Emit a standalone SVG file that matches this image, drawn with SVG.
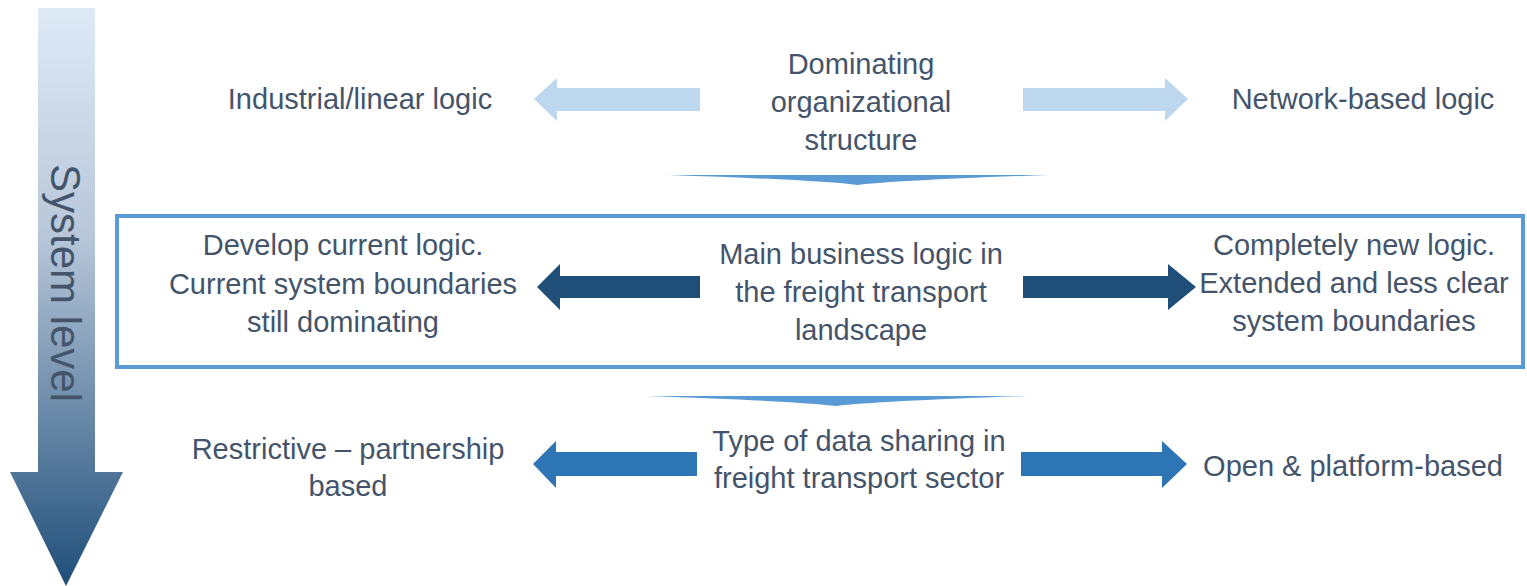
<svg xmlns="http://www.w3.org/2000/svg" width="1527" height="586" viewBox="0 0 1527 586">
<style>
text{font-family:"Liberation Sans",Arial,sans-serif;font-size:29px;fill:#44546a;text-anchor:middle}
.light{fill:#bdd7ee}
.dark{fill:#1f4e79}
.mid{fill:#2e75b6}
.chev{fill:#5b9bd5}
</style>
<defs>
<linearGradient id="g" x1="0" y1="0" x2="0" y2="1">
<stop offset="0" stop-color="#deeaf6"/>
<stop offset="0.4" stop-color="#b7c6d9"/>
<stop offset="1" stop-color="#1f4e79"/>
</linearGradient>
</defs>
<g id="system-level">
<polygon points="38,8 95,8 95,472 123,472 66,586 10,472 38,472" fill="url(#g)"/>
<text transform="translate(66,283) rotate(90)" y="15" style="font-size:42px">System level</text>
</g>
<g id="frame">
<rect x="117" y="216" width="1406" height="151" fill="none" stroke="#5b9bd5" stroke-width="4"/>
</g>
<g id="connectors">
<polygon class="light" points="534,99 557,78 557,88 700,88 700,111 557,111 557,121"/>
<polygon class="light" points="1188,99 1165,78 1165,88 1023,88 1023,111 1165,111 1165,121"/>
<path class="chev" d="M668,175 L1050,175 Q900,180 858,185 Q820,180 668,175 Z"/>
<polygon class="dark" points="537,287 560,264 560,276 700,276 700,298 560,298 560,310"/>
<polygon class="dark" points="1196,287 1168,264 1168,276 1023,276 1023,298 1168,298 1168,310"/>
<path class="chev" d="M645,396 L1027,396 Q880,401 836,406 Q795,401 645,396 Z"/>
<polygon class="mid" points="533,464 556,441 556,452 697,452 697,476 556,476 556,488"/>
<polygon class="mid" points="1187,464 1162,441 1162,452 1021,452 1021,476 1162,476 1162,488"/>
</g>
<g id="industrial"><text x="360" y="109">Industrial/linear logic</text></g>
<g id="dominating"><text x="861" y="74">Dominating</text><text x="861" y="112">organizational</text><text x="861" y="150">structure</text></g>
<g id="network"><text x="1363" y="109">Network-based logic</text></g>
<g id="develop"><text x="343" y="255">Develop current logic.</text><text x="343" y="294">Current system boundaries</text><text x="343" y="332">still dominating</text></g>
<g id="main-logic"><text x="861" y="264">Main business logic in</text><text x="861" y="302">the freight transport</text><text x="861" y="340">landscape</text></g>
<g id="new-logic"><text x="1354" y="255">Completely new logic.</text><text x="1354" y="293">Extended and less clear</text><text x="1354" y="331">system boundaries</text></g>
<g id="restrictive"><text x="348" y="459">Restrictive – partnership</text><text x="348" y="496">based</text></g>
<g id="data-sharing"><text x="859" y="451">Type of data sharing in</text><text x="859" y="488">freight transport sector</text></g>
<g id="open"><text x="1353" y="476">Open &amp; platform-based</text></g>
</svg>
